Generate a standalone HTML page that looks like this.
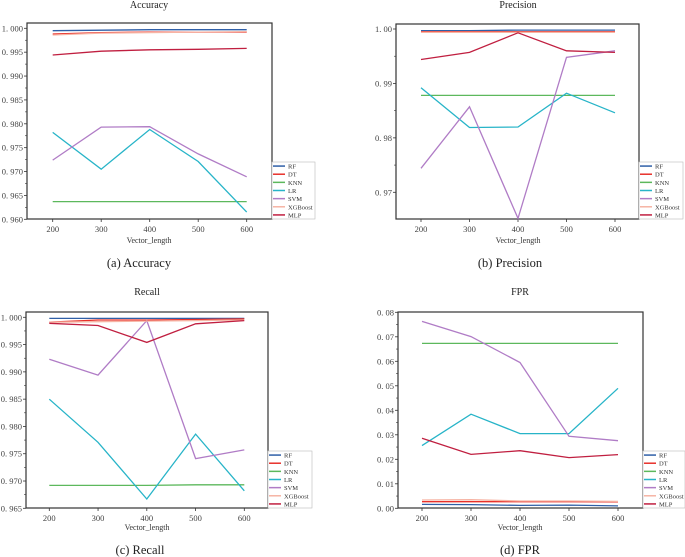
<!DOCTYPE html>
<html><head><meta charset="utf-8">
<style>
html,body{margin:0;padding:0;background:#fff;}
svg{display:block;font-family:"Liberation Serif",serif;}
</style></head>
<body>
<svg id="fig" width="685" height="557" viewBox="0 0 685 557" xmlns="http://www.w3.org/2000/svg"></svg>
<script>
const xCategories = [200, 300, 400, 500, 600];
const seriesNames = ["RF", "DT", "KNN", "LR", "SVM", "XGBoost", "MLP"];
const seriesColors = ["#2f5fa7", "#e8302a", "#5cb85c", "#27b4c8", "#b07cc6", "#f6b4a4", "#c01f40"];

const accRF = [0.9995, 0.9996, 0.9997, 0.9997, 0.9997];
const accDT = [0.9988, 0.9991, 0.9992, 0.9992, 0.9992];
const accKNN = [0.9637, 0.9637, 0.9637, 0.9637, 0.9637];
const accLR = [0.9782, 0.9705, 0.9788, 0.9721, 0.9615];
const accSVM = [0.9724, 0.9793, 0.9794, 0.9737, 0.9689];
const accXGB = [0.9986, 0.9990, 0.9991, 0.9992, 0.9993];
const accMLP = [0.9944, 0.9952, 0.9955, 0.9956, 0.9958];
const accTicks = ["0. 960","0. 965","0. 970","0. 975","0. 980","0. 985","0. 990","0. 995","1. 000"];

const preRF = [0.9997, 0.9997, 0.9998, 0.9998, 0.9998];
const preDT = [0.9995, 0.9995, 0.9995, 0.9995, 0.9995];
const preKNN = [0.9878, 0.9878, 0.9878, 0.9878, 0.9878];
const preLR = [0.9892, 0.9819, 0.9820, 0.9882, 0.9846];
const preSVM = [0.9744, 0.9857, 0.9652, 0.9948, 0.9960];
const preXGB = [0.9994, 0.9994, 0.9994, 0.9994, 0.9994];
const preMLP = [0.9944, 0.9957, 0.9993, 0.9960, 0.9957];
const preTicks = ["0. 97","0. 98","0. 99","1. 00"];

const recRF = [0.9998, 0.9998, 0.9998, 0.9998, 0.9998];
const recDT = [0.9991, 0.9995, 0.9995, 0.9996, 0.9997];
const recKNN = [0.9692, 0.9692, 0.9692, 0.9693, 0.9693];
const recLR = [0.9850, 0.9771, 0.9667, 0.9786, 0.9682];
const recSVM = [0.9923, 0.9894, 0.9994, 0.9741, 0.9757];
const recXGB = [0.9991, 0.9992, 0.9993, 0.9994, 0.9995];
const recMLP = [0.9989, 0.9985, 0.9954, 0.9988, 0.9994];
const recTicks = ["0. 965","0. 970","0. 975","0. 980","0. 985","0. 990","0. 995","1. 000"];

const fprRF = [0.0016, 0.0015, 0.0012, 0.0013, 0.0010];
const fprDT = [0.0027, 0.0027, 0.0027, 0.0027, 0.0026];
const fprKNN = [0.0673, 0.0673, 0.0673, 0.0673, 0.0673];
const fprLR = [0.0256, 0.0384, 0.0305, 0.0305, 0.0490];
const fprSVM = [0.0763, 0.0701, 0.0595, 0.0294, 0.0276];
const fprXGB = [0.0034, 0.0035, 0.0030, 0.0030, 0.0028];
const fprMLP = [0.0286, 0.0220, 0.0235, 0.0207, 0.0219];
const fprTicks = ["0. 00","0. 01","0. 02","0. 03","0. 04","0. 05","0. 06","0. 07","0. 08"];

const NS = "http://www.w3.org/2000/svg";
const fig = document.getElementById("fig");
function mk(tag, attrs, parent) {
  const e = document.createElementNS(NS, tag);
  for (const k in attrs) e.setAttribute(k, attrs[k]);
  (parent || fig).appendChild(e);
  return e;
}

function panel(cfg) {
  const g = mk("g", {});
  
  
  const xs = v => cfg.x200 + (v - 200) / 400 * (cfg.x600 - cfg.x200);
  const ys = v => cfg.yHiPx + (cfg.yHi - v) / (cfg.yHi - cfg.yLo) * (cfg.yLoPx - cfg.yHiPx);
  // frame
  const fr = mk("rect", {x: cfg.L, y: cfg.T, width: cfg.R - cfg.L, height: cfg.B - cfg.T, fill: "#fff", stroke: "#333", "stroke-width": 1.2}, g);
  
  
  // y ticks
  const n = cfg.ticks.length;
  for (let i = 0; i < n; i++) {
    const v = cfg.yLo + i * cfg.step;
    const y = ys(v);
    mk("line", {x1: cfg.L - 3, x2: cfg.L, y1: y, y2: y, stroke: "#333", "stroke-width": 0.8}, g);
    const t = mk("text", {x: cfg.L - 4, y: y + 3, "text-anchor": "end", "font-size": 8.5, fill: "#444"}, g);
    t.textContent = cfg.ticks[i];
    
    
    if (i < n - 1) {
      const ym = ys(v + cfg.step / 2);
      mk("line", {x1: cfg.L - 2, x2: cfg.L, y1: ym, y2: ym, stroke: "#333", "stroke-width": 0.6}, g);
    }
  }
  // x ticks
  xCategories.forEach(c => {
    const x = xs(c);
    mk("line", {x1: x, x2: x, y1: cfg.B, y2: cfg.B + 3, stroke: "#333", "stroke-width": 0.8}, g);
    const t = mk("text", {x: x, y: cfg.B + 13, "text-anchor": "middle", "font-size": 8.5, fill: "#444"}, g);
    t.textContent = c;
    
    
  });
  // series
  cfg.data.forEach((arr, si) => {
    const pts = arr.map((v, i) => xs(xCategories[i]).toFixed(1) + "," + ys(v).toFixed(1)).join(" ");
    const p = mk("polyline", {points: pts, fill: "none", stroke: seriesColors[si], "stroke-width": 1.3}, g);
    
    
  });
  // legend
  const lg = mk("g", {}, g);
  
  
  mk("rect", {x: cfg.legX, y: cfg.legY, width: cfg.legW, height: cfg.B - cfg.legY, fill: "#fff", stroke: "#bbb", "stroke-width": 0.6}, lg);
  const lh = (cfg.B - cfg.legY) / 7;
  seriesNames.forEach((nm, i) => {
    const y = cfg.legY + lh * (i + 0.5);
    mk("line", {x1: cfg.legX + 1, x2: cfg.legX + 13, y1: y, y2: y, stroke: seriesColors[i], "stroke-width": 1.5}, lg);
    const t = mk("text", {x: cfg.legX + 16, y: y + 2.5, "font-size": 6.5, fill: "#333"}, lg);
    t.textContent = nm;
    
    
  });
  // titles
  const cx = (cfg.L + cfg.R) / 2;
  const tt = mk("text", {x: cfg.titleX, y: cfg.titleY, "text-anchor": "middle", "font-size": 10, fill: "#222"}, g);
  tt.textContent = cfg.title;
  
  
  const xl = mk("text", {x: cfg.titleX, y: cfg.xlabY, "text-anchor": "middle", "font-size": 8, fill: "#333"}, g);
  xl.textContent = "Vector_length";
  
  
  const cp = mk("text", {x: cfg.capX, y: cfg.capY, "text-anchor": "middle", "font-size": 12.5, fill: "#222"}, g);
  cp.textContent = cfg.caption;
  
  
}

panel({key: "accuracy", title: "Accuracy", caption: "(a)  Accuracy", L: 27, R: 272, T: 23, B: 219,
  x200: 52.7, x600: 246.7, yLo: 0.960, yHi: 1.000, yLoPx: 219.3, yHiPx: 28.3, step: 0.005, ticks: accTicks,
  data: [accRF, accDT, accKNN, accLR, accSVM, accXGB, accMLP], legX: 272, legY: 162, legW: 43,
  titleX: 149, titleY: 8, xlabY: 243, capX: 139, capY: 267});
panel({key: "precision", title: "Precision", caption: "(b)  Precision", L: 396, R: 639, T: 24, B: 219,
  x200: 421, x600: 615, yLo: 0.97, yHi: 1.00, yLoPx: 192.3, yHiPx: 29, step: 0.01, ticks: preTicks,
  data: [preRF, preDT, preKNN, preLR, preSVM, preXGB, preMLP], legX: 639, legY: 162, legW: 44,
  titleX: 518, titleY: 8, xlabY: 243, capX: 510, capY: 267});
panel({key: "recall", title: "Recall", caption: "(c)  Recall", L: 26, R: 268, T: 312, B: 508,
  x200: 49.3, x600: 244.3, yLo: 0.965, yHi: 1.000, yLoPx: 508.3, yHiPx: 317.3, step: 0.005, ticks: recTicks,
  data: [recRF, recDT, recKNN, recLR, recSVM, recXGB, recMLP], legX: 268, legY: 451, legW: 44,
  titleX: 147, titleY: 295, xlabY: 530, capX: 140, capY: 554});
panel({key: "fpr", title: "FPR", caption: "(d)  FPR", L: 398, R: 643, T: 312, B: 508,
  x200: 422, x600: 618, yLo: 0.00, yHi: 0.08, yLoPx: 508.3, yHiPx: 312.3, step: 0.01, ticks: fprTicks,
  data: [fprRF, fprDT, fprKNN, fprLR, fprSVM, fprXGB, fprMLP], legX: 643, legY: 451, legW: 42,
  titleX: 520, titleY: 295, xlabY: 530, capX: 520, capY: 554});
</script>
</body></html>
